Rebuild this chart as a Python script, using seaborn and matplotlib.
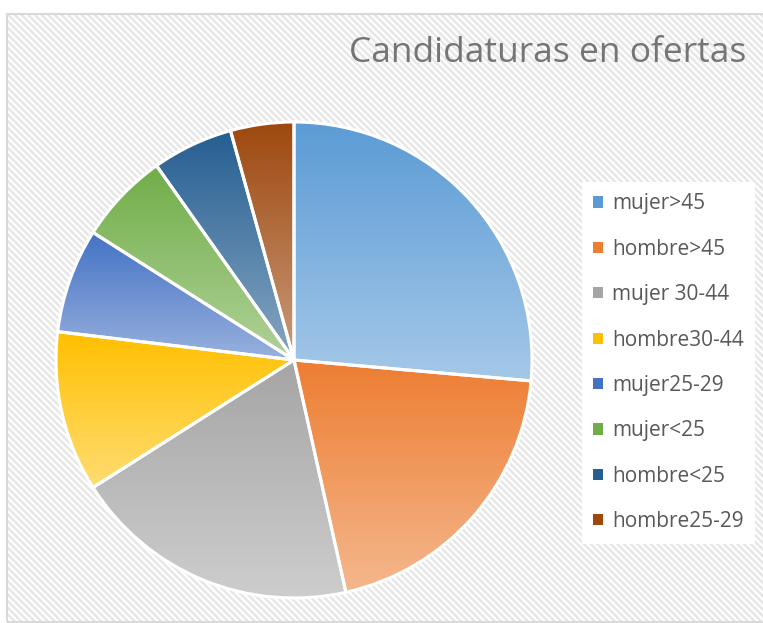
import numpy as np
import matplotlib
matplotlib.use("Agg")
import matplotlib.pyplot as plt
import matplotlib.colors as mcolors
from matplotlib.patches import Rectangle, Patch
import seaborn as sns

# ---- data ----
categories = ["mujer>45", "hombre>45", "mujer 30-44", "hombre30-44",
              "mujer25-29", "mujer<25", "hombre<25", "hombre25-29"]
values = [26.4, 20.1, 19.5, 10.9, 7.1, 6.2, 5.5, 4.3]
title = "Candidaturas en ofertas"

sns.set_theme(style="white")
plt.rcParams["font.family"] = ["Open Sans", "DejaVu Sans"]
plt.rcParams["hatch.linewidth"] = 1.7
plt.rcParams["hatch.color"] = "#e6e6e6"

palette = sns.color_palette(["#5B9BD5", "#ED7D31", "#A5A5A5", "#FFC000",
                             "#4472C4", "#70AD47", "#255E91", "#9E480E"])

W, H = 763, 623
fig = plt.figure(figsize=(W / 100, H / 100), dpi=100)
ax = fig.add_axes([0, 0, 1, 1])

# chart area background with hatch
bg = Rectangle((7, 0), W, H - 14, facecolor="white", edgecolor="#e6e6e6",
               hatch="\\" * 5, lw=0, zorder=-5)
ax.add_patch(bg)
border = Rectangle((7, 1), W, H - 15, facecolor="none", edgecolor="#d9d9d9",
                   lw=1.5, zorder=-4)
ax.add_patch(border)

wedges, _ = ax.pie(values, colors=palette, startangle=90, counterclock=False,
                   center=(294, H - 360), radius=238, frame=True,
                   wedgeprops=dict(edgecolor="white", linewidth=2.2))

def lighten(c, f):
    c = np.array(mcolors.to_rgb(c))
    return c + (1 - c) * f

for w, col in zip(wedges, palette):
    ext = w.get_path().get_extents(w.get_patch_transform())
    top = np.array(mcolors.to_rgb(col))
    bot = lighten(col, 0.45)
    t = np.linspace(0, 1, 256)[:, None]
    grad = (top[None, :] * (1 - t) + bot[None, :] * t)[:, None, :]
    im = ax.imshow(grad, extent=[ext.x0, ext.x1, ext.y0, ext.y1],
                   origin="upper", aspect="auto", zorder=0.5, interpolation="bilinear")
    im.set_clip_path(w)
    w.set_facecolor("none")
    w.set_zorder(2)

ax.set_xlim(0, W)
ax.set_ylim(0, H)
ax.set_aspect("equal")
ax.axis("off")

handles = [Patch(facecolor=c, edgecolor="none") for c in palette]
leg = ax.legend(handles, categories, loc="upper left",
                bbox_to_anchor=(582 / W, 1 - 182 / H), bbox_transform=fig.transFigure,
                frameon=True, facecolor="white", edgecolor="none", fancybox=False,
                framealpha=1, fontsize=15, handlelength=0.45, handleheight=0.45,
                handletextpad=0.45, labelspacing=1.17, borderpad=0.55, borderaxespad=0)
for txt in leg.get_texts():
    txt.set_color("#595959")

fig.text(746 / W, 1 - 62 / H, title, ha="right", va="baseline",
         fontsize=25.5, color="#757575")

fig.savefig("out.png", dpi=100)
